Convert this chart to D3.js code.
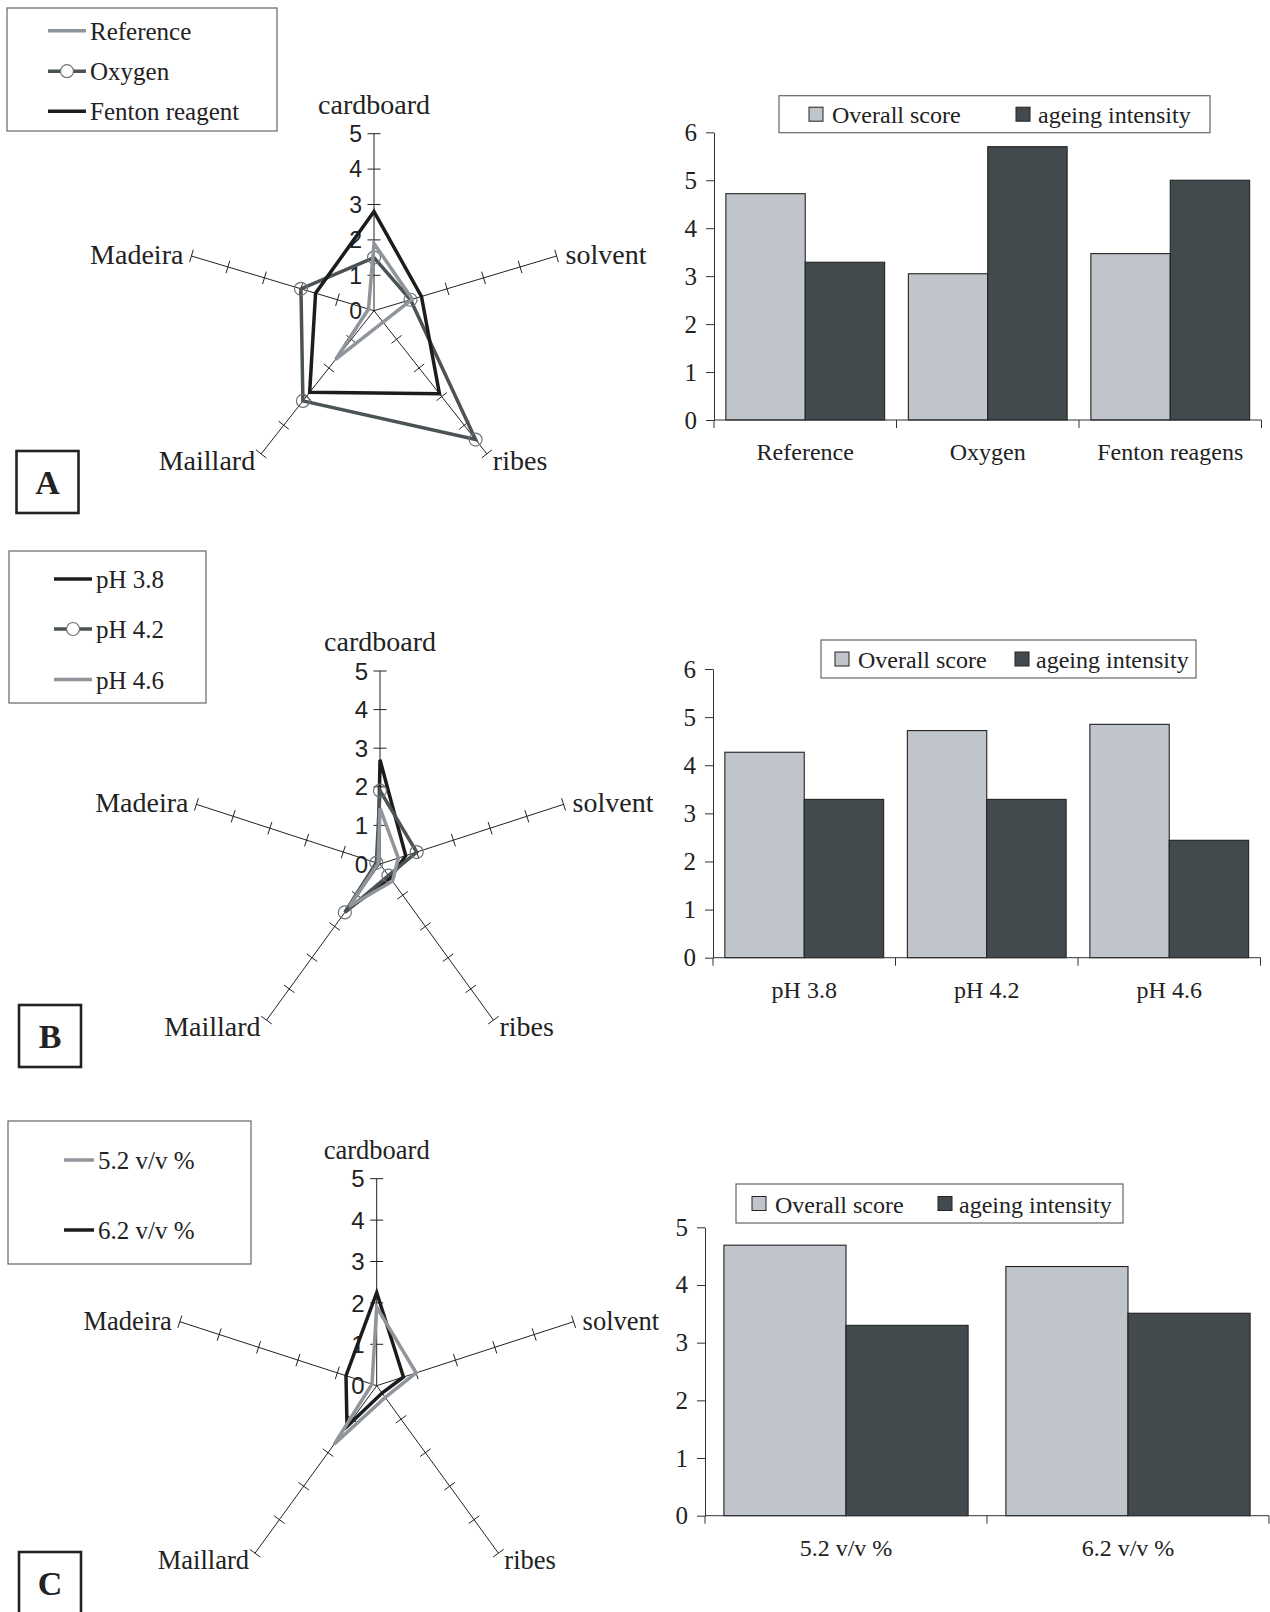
<!DOCTYPE html>
<html>
<head>
<meta charset="utf-8">
<script src="https://cdn.jsdelivr.net/npm/d3@7"></script>
<style>
  body { margin: 0; background: #fff; }
  svg { display: block; }
  text { font-family: 'Liberation Serif', 'Times New Roman', serif; fill: #222; }
</style>
</head>
<body>
<div id="chart"></div>
<script>
// Radar attributes (clockwise from the top)
const attributes = ['cardboard', 'solvent', 'ribes', 'Maillard', 'Madeira'];
const radarTicks = [0, 1, 2, 3, 4, 5];

// Panel A - radar
const seriesA = ['Reference', 'Oxygen', 'Fenton reagent'];
const referenceA = [1.9, 1.05, 0.4, 1.7, 0.15];
const oxygenA = [1.5, 1.0, 4.5, 3.15, 2.0];
const fentonA = [2.8, 1.3, 2.9, 2.85, 1.6];

// Panel B - radar
const seriesB = ['pH 3.8', 'pH 4.2', 'pH 4.6'];
const ph38 = [2.7, 0.7, 0.45, 1.5, 0.05];
const ph42 = [1.9, 1.0, 0.37, 1.55, 0.1];
const ph46 = [1.45, 0.5, 0.55, 1.35, 0.05];

// Panel C - radar
const seriesC = ['5.2 v/v %', '6.2 v/v %'];
const alc52 = [1.9, 1.0, 0.35, 1.75, 0.12];
const alc62 = [2.25, 0.68, 0.22, 1.22, 0.78];

// Bar charts
const barSeries = ['Overall score', 'ageing intensity'];
const catsA = ['Reference', 'Oxygen', 'Fenton reagens'];
const overallA = [4.72, 3.05, 3.47];
const ageingA = [3.29, 5.7, 5.0];
const catsB = ['pH 3.8', 'pH 4.2', 'pH 4.6'];
const overallB = [4.27, 4.72, 4.85];
const ageingB = [3.29, 3.29, 2.44];
const catsC = ['5.2 v/v %', '6.2 v/v %'];
const overallC = [4.69, 4.32];
const ageingC = [3.3, 3.51];

// styles
const LIGHT = '#8f959b', DARK = '#4b5356', BLACK = '#1c1c1c';
const BAR_LIGHT = '#c0c4cb', BAR_DARK = '#434a4d';

const svg = d3.select('#chart').append('svg')
    .attr('width', 1270)
    .attr('height', 1612);
svg.append('rect').attr('width', 1270).attr('height', 1612).attr('fill', '#fff');

// label placement relative to the end of each axis
const labelPos = {
    cardboard: {dx: 0, dy: -20, anchor: 'middle'},
    solvent: {dx: 9, dy: 8, anchor: 'start'},
    ribes: {dx: 6, dy: 16, anchor: 'start'},
    Maillard: {dx: -6, dy: 16, anchor: 'end'},
    Madeira: {dx: -8, dy: 8, anchor: 'end'}
};

function drawRadar(opt) {
    const g = svg.append('g');
    const r = d3.scaleLinear().domain([0, 5]).range([0, 1]);
    const angle = d3.scalePoint().domain(attributes).range([0, 2 * Math.PI * 4 / 5]);
    const pt = (attr, v) => {
        const a = angle(attr);
        return [opt.cx + opt.rx * r(v) * Math.sin(a), opt.cy - opt.ry * r(v) * Math.cos(a)];
    };

    // axes + tick marks
    attributes.forEach(attr => {
        const end = pt(attr, 5);
        g.append('line')
            .attr('x1', opt.cx).attr('y1', opt.cy)
            .attr('x2', end[0]).attr('y2', end[1])
            .attr('stroke', '#222').attr('stroke-width', 1);
        const a = angle(attr);
        const dx = opt.rx * Math.sin(a), dy = -opt.ry * Math.cos(a);
        const len = Math.hypot(dx, dy);
        const px = -dy / len, py = dx / len;
        radarTicks.slice(1).forEach(t => {
            const p = pt(attr, t);
            g.append('line')
                .attr('x1', p[0] - px * 6.5).attr('y1', p[1] - py * 6.5)
                .attr('x2', p[0] + px * 6.5).attr('y2', p[1] + py * 6.5)
                .attr('stroke', '#222').attr('stroke-width', 1);
        });
        const lp = labelPos[attr];
        g.append('text')
            .attr('x', end[0] + lp.dx)
            .attr('y', end[1] + lp.dy)
            .attr('text-anchor', lp.anchor)
            .attr('font-size', opt.labelSize)
            .text(attr);
    });

    // value labels on the cardboard axis
    radarTicks.forEach(t => {
        const p = pt('cardboard', t);
        g.append('text')
            .attr('x', opt.cx - 12)
            .attr('y', p[1])
            .attr('dy', '0.36em')
            .attr('text-anchor', 'end')
            .style('font-family', "'Liberation Sans', Arial, sans-serif")
            .attr('font-size', opt.tickSize)
            .text(t);
    });

    const line = d3.line().curve(d3.curveLinearClosed);
    opt.series.forEach(s => {
        const pts = attributes.map((attr, i) => pt(attr, s.values[i]));
        g.append('path')
            .attr('d', line(pts))
            .attr('fill', 'none')
            .attr('stroke', s.color)
            .attr('stroke-width', 3.5)
            .attr('stroke-linejoin', 'miter');
        if (s.marker) {
            g.selectAll(null).data(pts).enter().append('circle')
                .attr('cx', d => d[0]).attr('cy', d => d[1])
                .attr('r', 6.5)
                .attr('fill', 'none')
                .attr('stroke', '#6f7275')
                .attr('stroke-width', 1.2);
        }
    });

    // legend box
    const L = opt.legend;
    g.append('rect')
        .attr('x', L.x0).attr('y', L.y0)
        .attr('width', L.x1 - L.x0).attr('height', L.y1 - L.y0)
        .attr('fill', '#fff').attr('stroke', '#666').attr('stroke-width', 1.2);
    L.items.forEach((it, i) => {
        const s = opt.series.find(d => d.name === it);
        const y = L.ys[i];
        g.append('line')
            .attr('x1', L.lx0).attr('x2', L.lx1)
            .attr('y1', y).attr('y2', y)
            .attr('stroke', s.color).attr('stroke-width', 3.5);
        if (s.marker) {
            g.append('circle')
                .attr('cx', (L.lx0 + L.lx1) / 2).attr('cy', y).attr('r', 6.5)
                .attr('fill', '#fff').attr('stroke', '#6f7275').attr('stroke-width', 1.2);
        }
        g.append('text')
            .attr('x', L.tx).attr('y', y + 9)
            .attr('font-size', 25)
            .text(it);
    });

    // panel letter
    const P = opt.panel;
    g.append('rect')
        .attr('x', P.x).attr('y', P.y).attr('width', 62).attr('height', 62)
        .attr('fill', '#fff').attr('stroke', '#222').attr('stroke-width', 2.6);
    g.append('text')
        .attr('x', P.x + 31).attr('y', P.y + 43)
        .attr('text-anchor', 'middle')
        .attr('font-size', 34).attr('font-weight', 'bold')
        .text(P.letter);
}

function drawBars(opt) {
    const g = svg.append('g');
    const n = opt.cats.length;
    const x0 = d3.scaleBand().domain(opt.cats)
        .range([opt.left, opt.left + opt.step * n])
        .paddingInner(opt.pad * 2).paddingOuter(opt.pad);
    const x1 = d3.scaleBand().domain(barSeries).range([0, x0.bandwidth()]);
    const y = d3.scaleLinear().domain([0, opt.max]).range([opt.y0, opt.yTop]);
    const values = {'Overall score': opt.overall, 'ageing intensity': opt.ageing};
    const fills = {'Overall score': BAR_LIGHT, 'ageing intensity': BAR_DARK};

    opt.cats.forEach((c, i) => {
        barSeries.forEach(s => {
            g.append('rect')
                .attr('x', x0(c) + x1(s))
                .attr('y', y(values[s][i]))
                .attr('width', x1.bandwidth())
                .attr('height', opt.y0 - y(values[s][i]))
                .attr('fill', fills[s])
                .attr('stroke', '#222').attr('stroke-width', 1.1);
        });
    });

    // y axis
    const ya = g.append('g')
        .attr('transform', `translate(${opt.left},0)`)
        .call(d3.axisLeft(y).ticks(opt.max).tickSize(8).tickSizeOuter(0).tickPadding(9).tickFormat(d3.format('d')));
    ya.select('.domain').attr('stroke', '#333');
    ya.selectAll('.tick line').attr('stroke', '#333');
    ya.selectAll('text')
        .attr('font-size', 25)
        .style('font-family', "'Liberation Serif', 'Times New Roman', serif")
        .attr('fill', '#222');

    // x axis with ticks on band boundaries
    const xEnd = opt.left + opt.step * n;
    g.append('line')
        .attr('x1', opt.left).attr('x2', xEnd)
        .attr('y1', opt.y0).attr('y2', opt.y0)
        .attr('stroke', '#333');
    d3.range(n + 1).forEach(k => {
        const xx = opt.left + k * opt.step;
        g.append('line')
            .attr('x1', xx).attr('x2', xx)
            .attr('y1', opt.y0).attr('y2', opt.y0 + 8)
            .attr('stroke', '#333');
    });
    opt.cats.forEach(c => {
        g.append('text')
            .attr('x', x0(c) + x0.bandwidth() / 2)
            .attr('y', opt.y0 + 40)
            .attr('text-anchor', 'middle')
            .attr('font-size', 24)
            .text(c);
    });

    // legend
    const L = opt.legend;
    const cy = (L.y0 + L.y1) / 2;
    g.append('rect')
        .attr('x', L.x0).attr('y', L.y0)
        .attr('width', L.x1 - L.x0).attr('height', L.y1 - L.y0)
        .attr('fill', '#fff').attr('stroke', '#666').attr('stroke-width', 1.2);
    barSeries.forEach((s, i) => {
        g.append('rect')
            .attr('x', L.sw[i]).attr('y', cy - 7)
            .attr('width', 14).attr('height', 14)
            .attr('fill', fills[s]).attr('stroke', '#222').attr('stroke-width', 1);
        g.append('text')
            .attr('x', L.tx[i]).attr('y', cy + 9)
            .attr('font-size', 24)
            .text(s);
    });
}

// ----- Panel A -----
drawRadar({
    cx: 374, cy: 310.7, rx: 192, ry: 177, labelSize: 28, tickSize: 23,
    series: [
        {name: 'Oxygen', values: oxygenA, color: DARK, marker: true},
        {name: 'Reference', values: referenceA, color: LIGHT},
        {name: 'Fenton reagent', values: fentonA, color: BLACK}
    ],
    legend: {x0: 7, y0: 8, x1: 277, y1: 131, lx0: 48, lx1: 86, tx: 90,
             items: seriesA, ys: [30.7, 71.2, 111.2]},
    panel: {x: 16.5, y: 451, letter: 'A'}
});
drawBars({
    left: 714, step: 182.5, pad: 0.065, y0: 420, yTop: 132.3, max: 6,
    cats: catsA, overall: overallA, ageing: ageingA,
    legend: {x0: 779, y0: 95.7, x1: 1210, y1: 132.7, sw: [809, 1016], tx: [832, 1038]}
});

// ----- Panel B -----
drawRadar({
    cx: 380, cy: 864, rx: 193, ry: 193, labelSize: 28, tickSize: 24,
    series: [
        {name: 'pH 3.8', values: ph38, color: BLACK},
        {name: 'pH 4.2', values: ph42, color: DARK, marker: true},
        {name: 'pH 4.6', values: ph46, color: LIGHT}
    ],
    legend: {x0: 9, y0: 551, x1: 206, y1: 703, lx0: 54, lx1: 92, tx: 96,
             items: seriesB, ys: [579, 629, 679.5]},
    panel: {x: 19, y: 1005, letter: 'B'}
});
drawBars({
    left: 713, step: 182.5, pad: 0.065, y0: 957.7, yTop: 669, max: 6,
    cats: catsB, overall: overallB, ageing: ageingB,
    legend: {x0: 821, y0: 640, x1: 1196, y1: 678, sw: [835, 1015], tx: [858, 1036]}
});

// ----- Panel C -----
drawRadar({
    cx: 376.7, cy: 1385.7, rx: 207, ry: 207, labelSize: 26.5, tickSize: 24,
    series: [
        {name: '6.2 v/v %', values: alc62, color: BLACK},
        {name: '5.2 v/v %', values: alc52, color: LIGHT}
    ],
    legend: {x0: 8, y0: 1121, x1: 251, y1: 1264, lx0: 64, lx1: 94, tx: 98,
             items: seriesC, ys: [1160, 1230]},
    panel: {x: 19, y: 1552, letter: 'C'}
});
drawBars({
    left: 705, step: 282, pad: 0.067, y0: 1515.7, yTop: 1227.3, max: 5,
    cats: catsC, overall: overallC, ageing: ageingC,
    legend: {x0: 736, y0: 1184, x1: 1123, y1: 1223, sw: [752, 938], tx: [775, 959]}
});
</script>
</body>
</html>
